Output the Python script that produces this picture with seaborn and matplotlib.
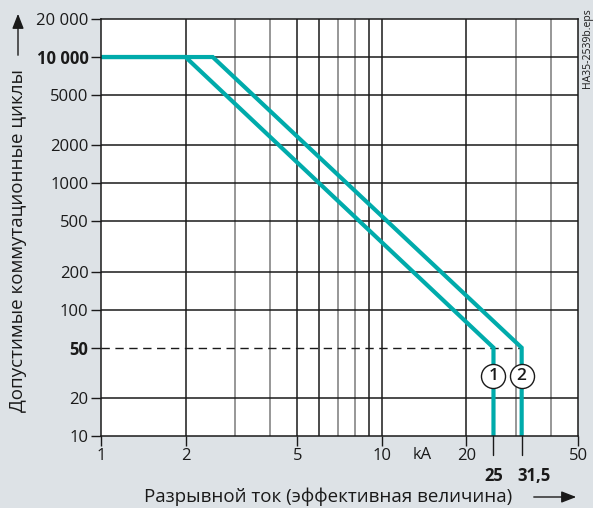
import matplotlib
matplotlib.use("Agg")
import matplotlib.pyplot as plt
import seaborn as sns
import pandas as pd
import numpy as np

# Curve data: breaking current (kA) vs permissible switching cycles
curve1_current = [1, 2, 25, 25]
curve1_cycles = [10000, 10000, 50, 10]
curve2_current = [1, 2.5, 31.5, 31.5]
curve2_cycles = [10000, 10000, 50, 10]

y_ticks = [10, 20, 50, 100, 200, 500, 1000, 2000, 5000, 10000, 20000]
y_tick_labels = ["10", "20", "50", "100", "200", "500", "1000", "2000", "5000", "10 000", "20 000"]
x_ticks = [1, 2, 5, 10, 20, 50]
x_tick_labels = ["1", "2", "5", "10", "20", "50"]
rated_currents = [25, 31.5]
rated_labels = ["25", "31,5"]
curve_ids = ["1", "2"]

sns.set_theme(style="white")
plt.rcParams["font.family"] = ["Open Sans", "DejaVu Sans"]

BG = "#dde2e6"
TEAL = "#00abab"
INK = "#1a1a1a"
TICK_FS = 12
LABEL_FS = 13.5

fig = plt.figure(figsize=(5.93, 5.08), dpi=100, facecolor=BG)
ax = fig.add_axes([101 / 593, 72 / 508, 477 / 593, 417 / 508])
ax.set_facecolor("white")
ax.set_xscale("log")
ax.set_yscale("log")
ax.set_xlim(1, 50)
ax.set_ylim(10, 20000)

# grid lines
dark_x = [2, 5, 6, 9, 10, 20]
grey_x = [3, 4, 7, 8, 30, 40]
for xv in dark_x:
    ax.axvline(xv, color=INK, lw=1.1, zorder=1)
for xv in grey_x:
    ax.axvline(xv, color="#7a7a7a", lw=1.1, zorder=1)
for yv in [20, 100, 200, 500, 1000, 2000, 5000, 10000]:
    ax.axhline(yv, color=INK, lw=1.1, zorder=1)
ax.plot([1, 31.5], [50, 50], color=INK, lw=1.0, dashes=(6, 4), zorder=1)

df = pd.concat([
    pd.DataFrame({"current": curve1_current, "cycles": curve1_cycles, "curve": "1"}),
    pd.DataFrame({"current": curve2_current, "cycles": curve2_cycles, "curve": "2"}),
])
sns.lineplot(data=df, x="current", y="cycles", units="curve", estimator=None,
             sort=False, color=TEAL, lw=3.0, ax=ax, zorder=3, legend=False,
             solid_joinstyle="miter")

# curve markers
for xv, cid in zip(rated_currents, curve_ids):
    ax.scatter([xv], [30], s=300, facecolor="white", edgecolor=INK,
               linewidth=1.0, zorder=5, clip_on=False)
    ax.text(xv, 30, cid, ha="center", va="center", fontsize=12.5,
            fontweight="semibold", color=INK, zorder=6)

for s in ax.spines.values():
    s.set_color(INK)
    s.set_linewidth(1.1)
    s.set_zorder(4)

ax.set_yticks(y_ticks)
ax.set_yticklabels(y_tick_labels)
ax.yaxis.set_minor_locator(matplotlib.ticker.NullLocator())
ax.xaxis.set_minor_locator(matplotlib.ticker.NullLocator())
ax.set_xticks(x_ticks)
ax.set_xticklabels(x_tick_labels)
ax.tick_params(axis="both", which="major", direction="out", length=7,
               width=1.0, color=INK, labelsize=TICK_FS, labelcolor=INK,
               pad=2, left=True, bottom=True)
for lbl in ax.get_yticklabels():
    if lbl.get_text() in ("10 000", "50"):
        lbl.set_fontweight("bold")
ax.set_xlabel("")
ax.set_ylabel("")

# rated current marks below the axis
for xv, lbl, dx in zip(rated_currents, rated_labels, [0, 9]):
    ax.plot([xv, xv], [0, -19 / 417], transform=ax.get_xaxis_transform(),
            color=INK, lw=1.0, clip_on=False)
    ax.annotate(lbl, xy=(xv, 0), xycoords=("data", "axes fraction"),
                xytext=(dx, -29), textcoords="offset points", ha="center",
                va="center", fontsize=TICK_FS, fontweight="bold", color=INK)

ax.annotate("kA", xy=(13.9, 0), xycoords=("data", "axes fraction"),
            xytext=(0, -14), textcoords="offset points", ha="center", va="center",
            fontsize=TICK_FS, color=INK)

# axis titles with arrows
fig.text(18 / 593, 1 - 240 / 508, "Допустимые коммутационные циклы", rotation=90,
         ha="center", va="center", fontsize=LABEL_FS, color=INK)
fig.add_artist(matplotlib.patches.FancyArrowPatch(
    (18 / 593, 1 - 58 / 508), (18 / 593, 1 - 11 / 508), transform=fig.transFigure,
    arrowstyle="-|>,head_length=9,head_width=3.5", color=INK, lw=1.0))
fig.text(328 / 593, 1 - 497 / 508, "Разрывной ток (эффективная величина)",
         ha="center", va="center", fontsize=LABEL_FS, color=INK)
fig.add_artist(matplotlib.patches.FancyArrowPatch(
    (531 / 593, 1 - 497 / 508), (579 / 593, 1 - 497 / 508), transform=fig.transFigure,
    arrowstyle="-|>,head_length=9,head_width=3.5", color=INK, lw=1.0))

fig.text(587 / 593, 1 - 8 / 508, "HA35-2539b.eps", rotation=90, ha="center",
         va="top", fontsize=7.5, color=INK)

fig.savefig("out.png", dpi=100, facecolor=BG)
